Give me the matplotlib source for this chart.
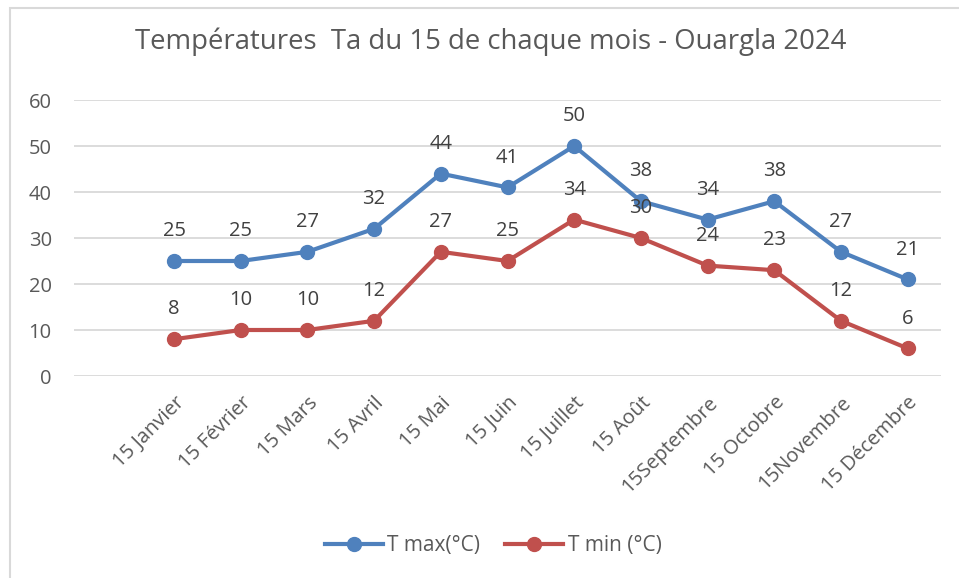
import numpy as np
import matplotlib
matplotlib.use("Agg")
import matplotlib.pyplot as plt
from matplotlib.patches import Rectangle

### Data ###############################################################
mois = ['15 Janvier', '15 Février', '15 Mars', '15 Avril', '15 Mai',
        '15 Juin', '15 Juillet', '15 Août', '15Septembre', '15 Octobre',
        '15Novembre', '15 Décembre']
t_max = [25, 25, 27, 32, 44, 41, 50, 38, 34, 38, 27, 21]
t_min = [8, 10, 10, 12, 27, 25, 34, 30, 24, 23, 12, 6]
y_ticks = [0, 10, 20, 30, 40, 50, 60]
titre = 'Températures  Ta du 15 de chaque mois - Ouargla 2024'

### Style ##############################################################
plt.rcParams['font.family'] = ['Open Sans', 'DejaVu Sans']
c_max = '#4F81BD'
c_min = '#C0504D'
c_text = '#595959'
c_lab = '#404040'

fig = plt.figure(figsize=(9.59, 5.78), dpi=100)
#chart frame (cropped at right and bottom like the reference)
fig.patches.append(Rectangle((10 / 959, -0.05), 1.0, (578 - 8) / 578 + 0.05,
                             transform=fig.transFigure, fill=False,
                             edgecolor='#D9D9D9', linewidth=1.5))

ax = fig.add_axes([74 / 959, 202 / 578, (941 - 74) / 959, 276 / 578])
x = np.arange(len(mois))

ax.plot(x, t_max, color=c_max, lw=3, marker='o', ms=10, label='T max(°C)',
        zorder=3)
ax.plot(x, t_min, color=c_min, lw=3, marker='o', ms=10, label='T min (°C)',
        zorder=3)

#data labels above each point
for xi, v in zip(x, t_max):
    ax.annotate(str(v), (xi, v), xytext=(0, 21.5), textcoords='offset points',
                ha='center', va='center', fontsize=14.5, color=c_lab)
for xi, v in zip(x, t_min):
    ax.annotate(str(v), (xi, v), xytext=(0, 21.5), textcoords='offset points',
                ha='center', va='center', fontsize=14.5, color=c_lab)

ax.set_xlim(-1.5, 11.5)
ax.set_ylim(0, 60)
ax.set_yticks(y_ticks)
ax.set_yticklabels([str(t) for t in y_ticks], fontsize=14.5, color=c_text)
ax.set_xticks(x)
ax.set_xticklabels(mois, fontsize=14.5, color=c_text, rotation=45,
                   ha='right', rotation_mode='anchor')
ax.tick_params(axis='both', length=0)
ax.tick_params(axis='y', pad=16)
ax.tick_params(axis='x', pad=12)
ax.grid(axis='y', color='#D9D9D9', lw=1.3)
ax.set_axisbelow(True)
for s in ax.spines.values():
    s.set_visible(False)

fig.text(491 / 959, 1 - 42 / 578, titre, ha='center', va='center',
         fontsize=19.8, color=c_text)

fig.legend(loc='center', bbox_to_anchor=(493 / 959, 1 - 546 / 578), ncol=2,
           frameon=False, fontsize=15, labelcolor=c_text, handlelength=2.8,
           columnspacing=1.2, handletextpad=0.2)

plt.savefig('out.png', dpi=100)
